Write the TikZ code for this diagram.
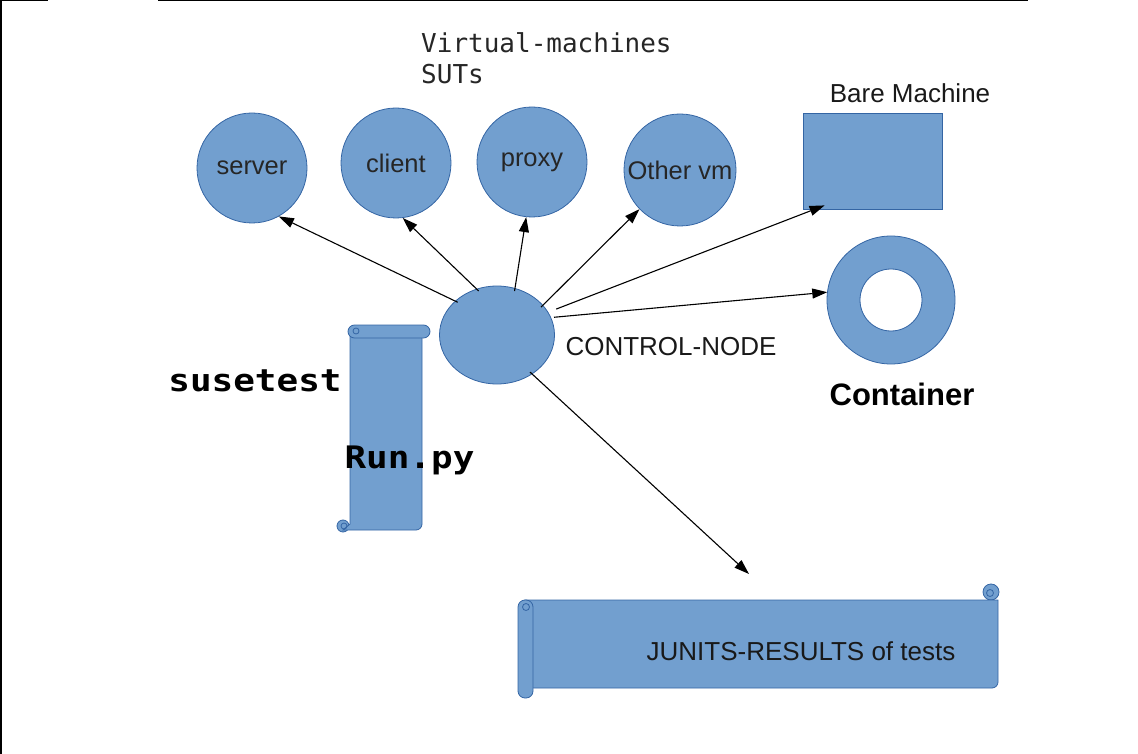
\documentclass[tikz,border=0pt]{standalone}
\usepackage{fontspec}
\setmainfont{Liberation Sans}
\newfontfamily\monofont{DejaVu Sans Mono}
\newfontfamily\monowide[FakeStretch=1.16]{DejaVu Sans Mono}
\usetikzlibrary{shapes.geometric,arrows.meta,calc}
\definecolor{shapefill}{HTML}{729FCF}
\definecolor{shapeline}{HTML}{3465A4}
\begin{document}
\begin{tikzpicture}[x=1pt,y=-1pt,
  shp/.style={fill=shapefill,draw=shapeline,line width=0.8pt},
  curl/.style={draw=shapeline,line width=0.8pt},
  vm/.style={shp,circle,minimum size=110pt,inner sep=0pt,font=\fontsize{25.5}{30}\selectfont,text=black!85},
  lbl/.style={font=\fontsize{26}{30}\selectfont,inner sep=0pt,text=black!90},
  bigmono/.style={font=\monowide\bfseries\fontsize{31}{36}\selectfont,inner sep=0pt,anchor=base},
  arr/.style={line width=1.1pt,shorten <=-3pt,-{Triangle[length=15pt,width=10pt]}},
  frame/.style={line width=1.5pt}
]
\useasboundingbox (0,0) rectangle (1138,754);
% frame
\draw[frame] (0.75,0) -- (0.75,754);
\draw[frame] (0,0.75) -- (48,0.75);
\draw[frame] (158,0.75) -- (1028,0.75);

% title
\node[font=\monofont\fontsize{26}{31}\selectfont,align=left,anchor=north west,inner sep=0pt,text=black!85] (vmlbl) at (421,32) {Virtual-machines\\SUTs};

% VM circles
\node[vm] (server) at (252,168) {server};
\node[vm] (client) at (396,163) {client};
\node[vm] (proxy) at (532,162) {proxy};
\node[vm,minimum size=112pt] (othervm) at (680,170) {Other vm};

% bare machine
\node[shp,rectangle,minimum width=139pt,minimum height=96pt,inner sep=0pt] (bare) at (872.5,161) {};
\node[lbl,anchor=base] (barelbl) at (910,103) {Bare Machine};

% container
\node[circle,minimum size=128pt,inner sep=0pt] (container) at (891,300) {};
\path[shp,even odd rule] (container.center) circle (64pt) (container.center) circle (31pt);
\node[font=\bfseries\fontsize{31}{36}\selectfont,anchor=base,inner sep=0pt] (contlbl) at (902,405) {Container};

% control node
\node[shp,ellipse,minimum width=115pt,minimum height=98pt,inner sep=0pt] (ctrl) at (497,335) {};
\node[lbl] (ctrllbl) at (671,347) {CONTROL-NODE};

% vertical scroll (susetest)
\draw[shp] (343,526) circle (6pt);
\draw[shp] (350,331) -- (422,331) -- (422,524) arc[start angle=0,end angle=90,radius=6] -- (343,530) -- (350,524) -- cycle;
\draw[shp,rounded corners=6.5pt] (348,325) rectangle (430,338);
\draw[curl] (356,331) circle (3pt);
\draw[curl] (344,526) circle (3pt);
\node[bigmono] (susetest) at (255,391) {susetest};
\node[bigmono] (runpy) at (409.5,468) {Run.py};

% horizontal scroll (JUNITS)
\draw[shp] (991,592) circle (8pt);
\draw[shp] (525,600) -- (998,600) -- (998,682) arc[start angle=0,end angle=90,radius=6] -- (525,688) -- cycle;
\draw[curl] (990,593) circle (3.5pt);
\draw[shp,rounded corners=7pt] (518,600) rectangle (533,698);
\draw[curl] (526,607) circle (3.5pt);
\node[lbl] (junlbl) at (801,651) {JUNITS-RESULTS of tests};

% connectors
\coordinate (junend) at (749,574);
\draw[arr] (ctrl.141) -- (server.-61);
\draw[arr] (ctrl.114) -- (client.-83);
\draw[arr] (ctrl.69) -- (proxy.-96);
\draw[arr] (ctrl.33) -- (othervm.-136);
\draw[arr] ($(ctrl.center)+(62,-27)$) -- ($(bare.south west)+(22,-4)$);
\draw[arr] ($(ctrl.center)+(60,-18)$) -- (container.173);
\draw[arr] (ctrl.-48) -- (junend);
\end{tikzpicture}
\end{document}
